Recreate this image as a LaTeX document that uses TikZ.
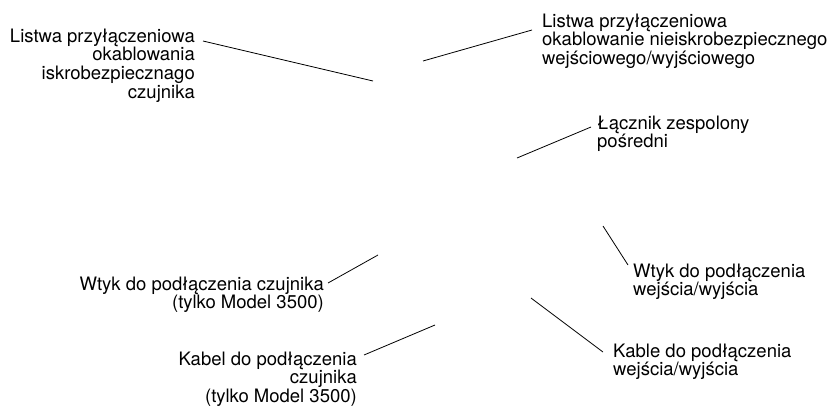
\documentclass[tikz,border=0pt]{standalone}
\usepackage{fontspec}
\setmainfont{TeX Gyre Heros}
\newcommand{\lblstrut}{\rule{0pt}{14.5pt}}
\begin{document}
\begin{tikzpicture}[x=1pt,y=-1pt,
  lbl/.style={inner sep=0pt, font=\fontsize{18.5}{18.6}\selectfont},
  lblr/.style={lbl, align=right, anchor=north east},
  lbll/.style={lbl, align=left, anchor=north west},
  leader/.style={draw=black, line width=0.8pt}]
\fill[white] (0,0) rectangle (832,408);
\useasboundingbox (0,0) rectangle (832,408);

\node[lblr] (l1) at (195,27.5) {\lblstrut Listwa przyłączeniowa\\okablowania\\iskrobezpiecznago\\czujnika};
\node[lbll] (l2) at (542,12.5) {\lblstrut Listwa przyłączeniowa\\okablowanie nieiskrobezpiecznego\\wejściowego/wyjściowego};
\node[lbll] (l3) at (597,114.5) {\lblstrut Łącznik zespolony\\pośredni};
\node[lblr] (l4) at (324,275.5) {\lblstrut Wtyk do podłączenia czujnika\\(tylko Model 3500)};
\node[lbll] (l5) at (633,262.5) {\lblstrut Wtyk do podłączenia\\wejścia/wyjścia};
\node[lblr] (l6) at (357,350.5) {\lblstrut Kabel do podłączenia\\czujnika\\(tylko Model 3500)};
\node[lbll] (l7) at (613,342.5) {\lblstrut Kable do podłączenia\\wejścia/wyjścia};

\coordinate (a1) at (203,41);  \coordinate (b1) at (373,81);
\coordinate (a2) at (532,30);  \coordinate (b2) at (423,61);
\coordinate (a3) at (591,127); \coordinate (b3) at (517,158);
\coordinate (a4) at (328,283); \coordinate (b4) at (378,255);
\coordinate (a5) at (628,265); \coordinate (b5) at (603,226);
\coordinate (a6) at (364,355); \coordinate (b6) at (435,325);
\coordinate (a7) at (603,352); \coordinate (b7) at (531,298);

\draw[leader] (a1) -- (b1);
\draw[leader] (a2) -- (b2);
\draw[leader] (a3) -- (b3);
\draw[leader] (a4) -- (b4);
\draw[leader] (a5) -- (b5);
\draw[leader] (a6) -- (b6);
\draw[leader] (a7) -- (b7);
\end{tikzpicture}
\end{document}
